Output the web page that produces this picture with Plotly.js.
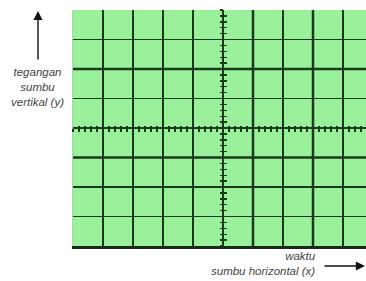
<!DOCTYPE html>
<html>
<head>
<meta charset="utf-8">
<script src="https://cdn.plot.ly/plotly-3.0.1.min.js"></script>
<style>html,body{margin:0;padding:0;background:#fff;}#chart{width:366px;height:281px;}</style>
</head>
<body>
<div id="chart"></div>
<script>
// Screen divisions (oscilloscope graticule), centred on 0
var xRange = [-5, 4.7667];
var yRange = [-4, 4];
var majorStep = 1;      // one division
var minorStep = 0.2;    // five subdivisions per division on the centre axes
var thickX = [1, 3];    // heavier vertical grid lines
var thickY = [2, -1];   // heavier horizontal grid lines

var yLabelLines = ['tegangan', 'sumbu', 'vertikal (y)'];
var xLabelLines = ['waktu', 'sumbu horizontal (x)'];

var gridColor = '#1a3a1c';
var screenColor = '#9bf09b';
var textFont = {family: 'Liberation Sans, Arial, sans-serif', size: 11.5, color: '#444444'};

var W = 366, H = 281, mL = 73, mR = 0, mT = 10, mB = 35;
var pw = W - mL - mR, ph = H - mT - mB;
function px(x) { return (x - mL) / pw; }
function py(y) { return (H - mB - y) / ph; }

var traces = [
  {x: [], y: [], type: 'scatter', xaxis: 'x', yaxis: 'y', hoverinfo: 'skip', showlegend: false},
  {x: [], y: [], type: 'scatter', xaxis: 'x2', yaxis: 'y', hoverinfo: 'skip', showlegend: false},
  {x: [], y: [], type: 'scatter', xaxis: 'x3', yaxis: 'y', hoverinfo: 'skip', showlegend: false},
  {x: [], y: [], type: 'scatter', xaxis: 'x', yaxis: 'y2', hoverinfo: 'skip', showlegend: false},
  {x: [], y: [], type: 'scatter', xaxis: 'x', yaxis: 'y3', hoverinfo: 'skip', showlegend: false}
];

var centreX = (0 - xRange[0]) / (xRange[1] - xRange[0]);
var centreY = (0 - yRange[0]) / (yRange[1] - yRange[0]);

function tickAxis(extra) {
  var base = {showgrid: false, zeroline: false, showticklabels: false, showline: false,
    tick0: 0, dtick: minorStep, ticklen: 3, tickwidth: 1.4, tickcolor: gridColor, fixedrange: true};
  for (var k in extra) base[k] = extra[k];
  return base;
}

var shapes = [];
thickX.forEach(function (v) {
  shapes.push({type: 'line', xref: 'x', yref: 'paper', x0: v, x1: v, y0: 0, y1: 1,
    line: {color: gridColor, width: 2.5}, layer: 'below'});
});
thickY.forEach(function (v) {
  shapes.push({type: 'line', xref: 'paper', yref: 'y', x0: 0, x1: 1, y0: v, y1: v,
    line: {color: gridColor, width: 2.5}, layer: 'below'});
});

var layout = {
  width: W, height: H,
  margin: {l: mL, r: mR, t: mT, b: mB, pad: 0},
  paper_bgcolor: '#ffffff',
  plot_bgcolor: screenColor,
  showlegend: false,
  xaxis: {range: xRange, tick0: 0, dtick: majorStep, showgrid: true, gridcolor: gridColor, gridwidth: 1.8,
    zeroline: false, showticklabels: false, ticks: '', showline: true, linecolor: '#1a2a1a', linewidth: 2.5,
    fixedrange: true},
  yaxis: {range: yRange, tick0: 0, dtick: majorStep, showgrid: true, gridcolor: gridColor, gridwidth: 1.8,
    zeroline: false, showticklabels: false, ticks: '', showline: true, linecolor: '#b8ccb8', linewidth: 1,
    fixedrange: true},
  xaxis2: tickAxis({overlaying: 'x', anchor: 'free', position: centreY, range: xRange, ticks: 'outside', ticklen: 2.5}),
  xaxis3: tickAxis({overlaying: 'x', anchor: 'free', position: centreY, range: xRange, ticks: 'inside', ticklen: 2.5}),
  yaxis2: tickAxis({overlaying: 'y', anchor: 'free', position: centreX, range: yRange, ticks: 'outside'}),
  yaxis3: tickAxis({overlaying: 'y', anchor: 'free', position: centreX, range: yRange, ticks: 'inside'}),
  shapes: shapes,
  annotations: [
    {xref: 'paper', yref: 'paper', x: px(37), y: py(87), xanchor: 'center', yanchor: 'middle',
      text: '<i>' + yLabelLines.join('<br>') + '</i>', align: 'center', showarrow: false, font: textFont},
    {xref: 'paper', yref: 'paper', x: px(318), y: py(263), xanchor: 'right', yanchor: 'middle',
      text: '<i>' + xLabelLines.join('<br>') + '</i>', align: 'right', showarrow: false, font: textFont},
    {xref: 'paper', yref: 'paper', x: px(38), y: py(11), text: '', showarrow: true,
      ax: 0, ay: 50, arrowhead: 2, arrowsize: 1.3, arrowwidth: 1.4, arrowcolor: '#111'},
    {xref: 'paper', yref: 'paper', x: px(365), y: py(266), text: '', showarrow: true,
      ax: -42, ay: 0, arrowhead: 2, arrowsize: 1.3, arrowwidth: 1.4, arrowcolor: '#111'}
  ]
};

Plotly.newPlot('chart', traces, layout, {displayModeBar: false, staticPlot: true});
</script>
</body>
</html>
